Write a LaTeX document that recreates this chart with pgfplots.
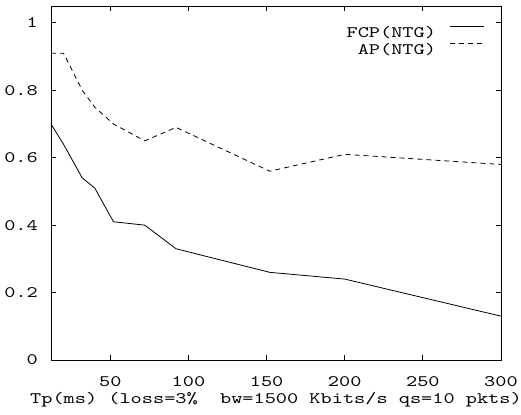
\documentclass[border=0pt]{standalone}
\usepackage{fontspec}
\setmainfont{lmmono10-regular.otf}[FakeStretch=1.33]
\usepackage{pgfplots}
\pgfplotsset{compat=1.18}
\begin{document}
\begin{tikzpicture}[font=\fontsize{16bp}{19bp}\selectfont]
\path[use as bounding box] (-51bp,-55bp) rectangle (470bp,360bp);
\begin{axis}[at={(0,0)}, anchor=south west, scale only axis, width=450bp, height=354bp,
  xmin=12, xmax=300, ymin=0, ymax=1.05,
  xtick={50,100,...,300}, ytick={0,0.2,0.4,0.6,0.8,1},
  /pgf/number format/assume math mode=true,
  tick align=inside, tick pos=both, major tick length=5bp,
  axis line style={line width=0.8bp},
  every tick/.style={black, line width=0.8bp},
  yticklabel style={inner sep=0pt, xshift=-13bp},
  xticklabel style={inner sep=0pt, anchor=north, yshift=-16.5bp},
  xlabel={Tp(ms)~(loss=3\%~~bw=1500~Kbits/s~qs=10~pkts)},
  xlabel style={at={(axis description cs:0.5,0)}, anchor=base, inner sep=0pt, yshift=-43bp},
  legend style={draw=none, fill=none, at={(rel axis cs:1,1)}, anchor=north east,
    xshift=-16bp, yshift=-20bp, inner sep=0pt, row sep=6bp, column sep=14bp,
    nodes={inner sep=0pt, text height=11bp, text depth=0bp}},
  legend cell align=right, legend plot pos=right,
  legend image code/.code={\draw[#1] (0bp,5bp) -- (34bp,5bp);},
]
\addplot[black, line width=0.8bp] coordinates {(12,0.70) (20,0.64) (32,0.54) (40,0.51) (52,0.41) (72,0.40) (92,0.33) (152,0.26) (200,0.24) (300,0.13)};
\addlegendentry{FCP(NTG)}
\addplot[black, line width=0.8bp, dash pattern=on 5bp off 4bp] coordinates {(12,0.91) (20,0.91) (32,0.80) (40,0.75) (52,0.70) (72,0.65) (92,0.69) (152,0.56) (200,0.61) (300,0.58)};
\addlegendentry{AP(NTG)}
\end{axis}
\end{tikzpicture}
\end{document}
